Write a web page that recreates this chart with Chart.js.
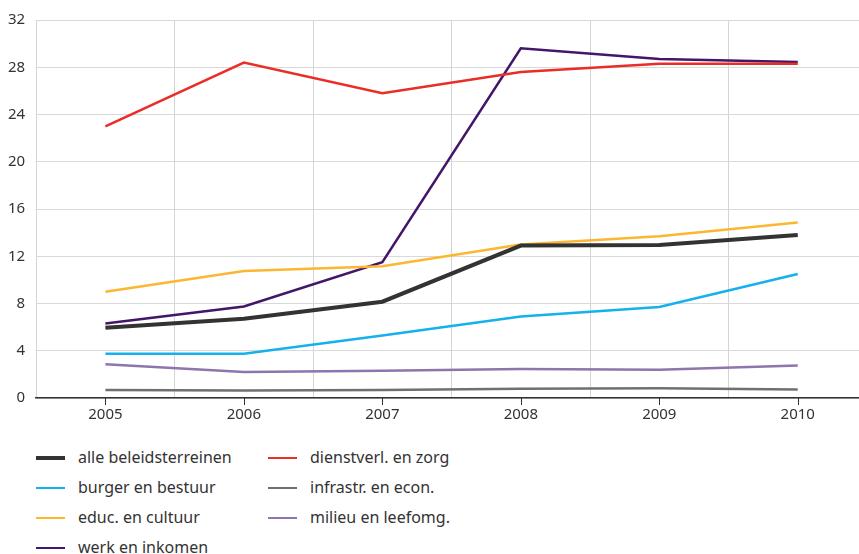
<!DOCTYPE html>
<html>
<head>
<meta charset="utf-8">
<script src="https://cdn.jsdelivr.net/npm/chart.js@4/dist/chart.umd.min.js"></script>
<style>
  body { margin: 0; background: #fff; overflow: hidden; width: 859px; height: 554px; position: relative; font-family: "Noto Sans", sans-serif; }
  #wrap { position: absolute; left: -3px; top: 0; width: 871px; height: 432px; }
  #legenda { position: absolute; left: 0; top: 0; }
  .item { position: absolute; height: 20px; font-size: 16px; color: #333; line-height: 20px; white-space: nowrap; }
  .item span.lijn { position: absolute; left: 0; width: 29px; }
  .item span.tekst { position: absolute; left: 42px; top: -1px; }
</style>
</head>
<body>
<div id="wrap"><canvas id="grafiek"></canvas></div>
<div id="legenda"></div>
<script>
// data
const jaren = ['2005', '2006', '2007', '2008', '2009', '2010'];
const yTicks = [0, 4, 8, 12, 16, 20, 24, 28, 32];

const alleBeleid   = [5.95, 6.7, 8.15, 12.9, 12.95, 13.8];
const dienstverl   = [23.0, 28.4, 25.8, 27.6, 28.3, 28.3];
const burger       = [3.75, 3.75, 5.3, 6.9, 7.7, 10.5];
const infrastr     = [0.68, 0.63, 0.68, 0.78, 0.83, 0.72];
const educ         = [9.0, 10.75, 11.15, 13.0, 13.7, 14.85];
const milieu       = [2.85, 2.2, 2.3, 2.45, 2.4, 2.75];
const werk         = [6.3, 7.75, 11.5, 29.6, 28.7, 28.45];

const reeksen = [
  { label: 'alle beleidsterreinen', data: alleBeleid, kleur: '#333333', dikte: 4 },
  { label: 'dienstverl. en zorg',   data: dienstverl, kleur: '#ea2d26', dikte: 2.5 },
  { label: 'burger en bestuur',     data: burger,     kleur: '#14b1ec', dikte: 2.5 },
  { label: 'infrastr. en econ.',    data: infrastr,   kleur: '#707070', dikte: 2.5 },
  { label: 'educ. en cultuur',      data: educ,       kleur: '#fbb731', dikte: 2.5 },
  { label: 'milieu en leefomg.',    data: milieu,     kleur: '#8d75ad', dikte: 2.5 },
  { label: 'werk en inkomen',       data: werk,       kleur: '#43166a', dikte: 2.5 }
];

// tick streepjes onder de as, midden op elk jaar
const tickStreepjes = {
  id: 'tickStreepjes',
  afterDraw(chart) {
    const x = chart.scales.x;
    const ctx = chart.ctx;
    ctx.save();
    ctx.strokeStyle = '#333';
    ctx.lineWidth = 1;
    jaren.forEach((j, i) => {
      const px = Math.round(x.getPixelForValue(i)) + 0.5;
      ctx.beginPath();
      ctx.moveTo(px, x.top);
      ctx.lineTo(px, x.top + 7);
      ctx.stroke();
    });
    ctx.restore();
  }
};

const ctx = document.getElementById('grafiek').getContext('2d');
const grafiek = new Chart(ctx, {
  type: 'line',
  data: {
    labels: jaren,
    datasets: reeksen.map(r => ({
      label: r.label,
      data: r.data,
      borderColor: r.kleur,
      backgroundColor: r.kleur,
      borderWidth: r.dikte,
      pointRadius: 0,
      tension: 0,
      fill: false
    }))
  },
  options: {
    responsive: true,
    maintainAspectRatio: false,
    animation: false,
    layout: { padding: { left: 0, right: 1, top: 18, bottom: 0 } },
    scales: {
      x: {
        offset: true,
        grid: { offset: true, color: '#d4d4d4', lineWidth: 1, drawTicks: false },
        border: { color: '#333', width: 1.5 },
        ticks: { color: '#333', padding: 8, font: { family: 'Noto Sans', size: 15 } }
      },
      y: {
        min: 0,
        max: 32,
        afterBuildTicks(scale) { scale.ticks = yTicks.map(v => ({ value: v })); },
        grid: { color: '#d9d9d9', lineWidth: 1, drawTicks: false },
        border: { display: false },
        ticks: { color: '#333', padding: 11, font: { family: 'Noto Sans', size: 15 } }
      }
    },
    plugins: {
      legend: { display: false },
      tooltip: { enabled: false }
    }
  },
  plugins: [tickStreepjes]
});

// legenda in twee kolommen, kolomsgewijs gevuld
const volgorde = [0, 2, 4, 6, 1, 3, 5];
const legenda = document.getElementById('legenda');
volgorde.forEach((idx, n) => {
  const ds = grafiek.data.datasets[idx];
  const kol = n < 4 ? 0 : 1;
  const rij = n < 4 ? n : n - 4;
  const div = document.createElement('div');
  div.className = 'item';
  div.style.left = (36 + kol * 232) + 'px';
  div.style.top = (448 + rij * 30) + 'px';
  const lijn = document.createElement('span');
  lijn.className = 'lijn';
  lijn.style.background = ds.borderColor;
  lijn.style.height = ds.borderWidth + 'px';
  lijn.style.top = (10 - ds.borderWidth / 2) + 'px';
  const tekst = document.createElement('span');
  tekst.className = 'tekst';
  tekst.textContent = ds.label;
  div.appendChild(lijn);
  div.appendChild(tekst);
  legenda.appendChild(div);
});
</script>
</body>
</html>
